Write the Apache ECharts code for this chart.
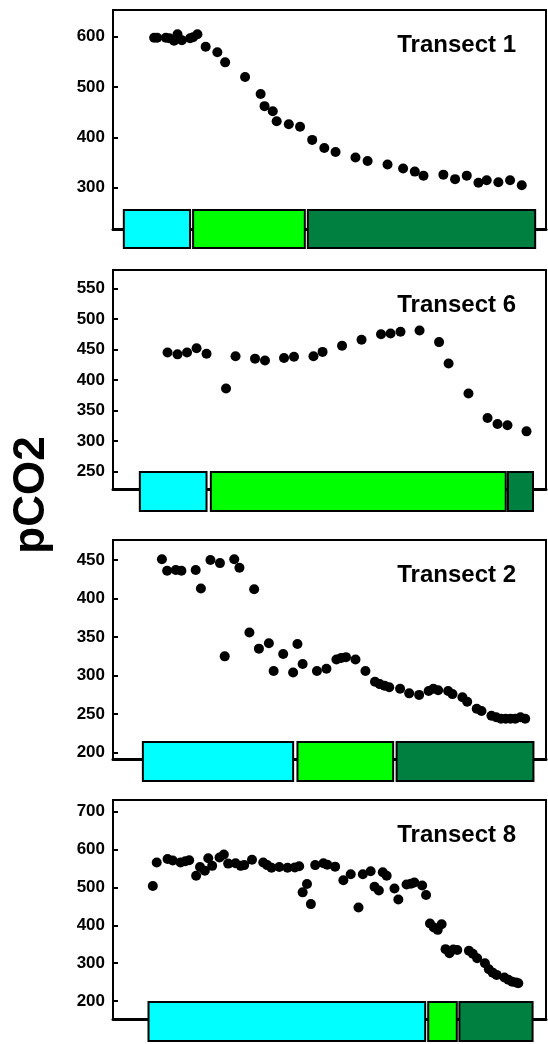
<!DOCTYPE html>
<html>
<head>
<meta charset="utf-8">
<script src="https://cdn.jsdelivr.net/npm/echarts@6/dist/echarts.min.js"></script>
<style>
  html, body { margin: 0; padding: 0; background: #fff; }
  #chart { width: 548px; height: 1044px; }
</style>
</head>
<body>
<div id="chart"></div>
<script>
// panel names, top to bottom
const transectNames = ['Transect 1', 'Transect 6', 'Transect 2', 'Transect 8'];

// distance along the transect (arbitrary 0-100 scale) and pCO2
const t1Dist = [9.5, 10.2, 12.2, 13.0, 14.1, 14.9, 15.9, 17.8, 18.5, 19.5, 21.4, 24.1, 25.9, 30.5, 34.1, 35.0, 36.9, 37.8, 40.6, 43.2, 46.0, 48.8, 51.4, 56.0, 58.8, 63.4, 67.0, 69.7, 71.7, 76.3, 79.0, 81.7, 84.4, 86.3, 89.0, 91.7, 94.4];
const t1Pco2 = [598, 598, 598, 597, 592, 605, 593, 597, 599, 605, 580, 569, 549, 520, 486, 462, 452, 432, 426, 421, 395, 379, 371, 360, 353, 346, 338, 332, 324, 326, 317, 324, 310, 315, 311, 315, 305];

const t6Dist = [12.6, 14.9, 17.1, 19.3, 21.6, 26.1, 28.3, 32.8, 35.1, 39.5, 41.8, 46.3, 48.4, 52.9, 57.4, 61.9, 64.1, 66.4, 70.8, 75.3, 77.5, 82.1, 86.5, 88.8, 91.1, 95.5];
const t6Pco2 = [445, 442, 445, 452, 443, 386, 439, 435, 432, 436, 438, 439, 446, 456, 466, 475, 476, 479, 481, 462, 427, 378, 338, 328, 326, 316];

const t2Dist = [11.3, 12.5, 14.5, 15.8, 19.1, 20.3, 22.5, 24.7, 25.8, 28.0, 29.2, 31.5, 32.6, 33.7, 36.0, 37.1, 39.3, 41.6, 42.6, 43.8, 47.1, 49.3, 51.6, 52.7, 53.8, 56.0, 58.3, 60.5, 61.6, 62.7, 63.8, 66.3, 68.4, 70.7, 72.9, 74.0, 75.1, 77.4, 78.4, 80.7, 81.8, 84.0, 85.1, 87.4, 88.5, 89.6, 90.7, 91.8, 92.9, 94.1, 95.2];
const t2Pco2 = [451, 436, 437, 436, 437, 413, 450, 446, 325, 451, 440, 356, 412, 335, 342, 306, 328, 304, 341, 315, 306, 309, 321, 323, 324, 321, 306, 292, 289, 287, 285, 283, 277, 275, 280, 283, 281, 280, 276, 272, 266, 257, 254, 248, 246, 244, 244, 244, 244, 246, 244];

const t8Dist = [9.2, 10.1, 12.6, 13.8, 15.6, 16.7, 17.6, 19.2, 20.1, 21.2, 22.0, 22.9, 24.6, 25.6, 26.6, 28.3, 29.5, 30.3, 32.1, 34.7, 35.6, 36.6, 38.4, 40.3, 42.0, 43.0, 43.8, 44.8, 45.7, 46.7, 48.6, 49.5, 51.3, 53.2, 54.9, 56.7, 57.7, 59.5, 60.4, 61.4, 62.3, 63.2, 65.0, 65.9, 67.8, 68.8, 69.6, 71.4, 72.3, 73.2, 74.1, 75.0, 75.9, 76.8, 77.7, 78.6, 79.5, 82.2, 83.1, 84.1, 85.9, 86.8, 87.7, 88.6, 90.4, 91.3, 92.2, 93.1, 93.6];
const t8Pco2 = [504, 566, 575, 571, 566, 569, 572, 531, 554, 544, 577, 557, 579, 587, 563, 564, 557, 559, 573, 566, 559, 552, 554, 552, 553, 556, 487, 509, 456, 559, 564, 560, 555, 519, 535, 447, 535, 543, 502, 492, 540, 531, 497, 468, 508, 510, 513, 505, 480, 405, 394, 388, 403, 337, 326, 336, 335, 333, 325, 313, 300, 284, 275, 269, 262, 256, 251, 249, 247];

// zones under each panel: [start, end] along the same distance scale
const t1Zones = [[2.5, 17.8], [18.5, 44.3], [45.0, 97.5]];
const t6Zones = [[6.2, 21.6], [22.6, 90.7], [91.2, 97.0]];
const t2Zones = [[6.9, 41.6], [42.6, 64.7], [65.5, 97.1]];
const t8Zones = [[8.2, 72.1], [72.8, 79.4], [80.0, 96.9]];

// y axis range and labelled ticks of each panel
const yRanges = [[218, 653], [221.7, 580], [191.8, 476], [152.5, 731]];
const t1Ticks = [300, 400, 500, 600];
const t6Ticks = [250, 300, 350, 400, 450, 500, 550];
const t2Ticks = [200, 250, 300, 350, 400, 450];
const t8Ticks = [200, 300, 400, 500, 600, 700];

const panels = [
    {dist: t1Dist, pco2: t1Pco2, zones: t1Zones, ticks: t1Ticks},
    {dist: t6Dist, pco2: t6Pco2, zones: t6Zones, ticks: t6Ticks},
    {dist: t2Dist, pco2: t2Pco2, zones: t2Zones, ticks: t2Ticks},
    {dist: t8Dist, pco2: t8Pco2, zones: t8Zones, ticks: t8Ticks}
]

const zoneColors = ['#00FFFF', '#00FF00', '#008040']
const gridTops = [10, 270, 540, 800]
const boxUp = [19, 17, 17, 17]
const boxDown = [19, 22, 22, 22]
const font = '"Liberation Sans", Arial, sans-serif'

let chart = echarts.init(document.getElementById('chart'))

let option = {
    animation: false,
    title: [],
    grid: [],
    xAxis: [],
    yAxis: [],
    series: [],
    graphic: [{
        type: 'text',
        x: 32,
        y: 495,
        rotation: Math.PI / 2,
        style: {
            text: 'pCO2',
            font: 'bold 44px ' + font,
            fill: '#000',
            textAlign: 'center',
            textVerticalAlign: 'middle'
        }
    }]
}

panels.forEach((p, i) => {
    option.title.push({
        text: transectNames[i],
        right: 27,
        top: gridTops[i] + 18,
        textStyle: {
            fontFamily: font,
            fontWeight: 'bold',
            fontSize: 24,
            lineHeight: 24,
            color: '#000'
        }
    })
    option.grid.push({
        left: 113,
        right: 2,
        top: gridTops[i],
        height: 219,
        show: true,
        borderColor: '#000',
        borderWidth: 2
    })
    option.xAxis.push({
        type: 'value',
        gridIndex: i,
        min: 0,
        max: 100,
        axisLine: {show: true, lineStyle: {color: '#000', width: 3}},
        axisTick: {show: false},
        axisLabel: {show: false},
        splitLine: {show: false}
    })
    option.yAxis.push({
        type: 'value',
        gridIndex: i,
        min: yRanges[i][0],
        max: yRanges[i][1],
        axisLine: {show: true, lineStyle: {color: '#000', width: 2}},
        axisTick: {
            show: true,
            inside: true,
            length: 5,
            customValues: p.ticks,
            lineStyle: {color: '#000', width: 2}
        },
        axisLabel: {
            customValues: p.ticks,
            margin: 8,
            color: '#000',
            fontFamily: font,
            fontWeight: 'bold',
            fontSize: 17
        },
        splitLine: {show: false}
    })
    option.series.push({
        type: 'scatter',
        xAxisIndex: i,
        yAxisIndex: i,
        symbolSize: 10,
        itemStyle: {color: '#000', opacity: 1},
        data: p.dist.map((d, k) => [d, p.pco2[k]]),
        z: 3
    })
    option.series.push({
        type: 'custom',
        xAxisIndex: i,
        yAxisIndex: i,
        clip: false,
        encode: {x: [0, 1]},
        data: p.zones.map((z, k) => [z[0], z[1], k]),
        renderItem: function (params, api) {
            let a = api.coord([api.value(0), yRanges[i][0]])
            let b = api.coord([api.value(1), yRanges[i][0]])
            return {
                type: 'rect',
                shape: {
                    x: a[0],
                    y: a[1] - boxUp[i],
                    width: b[0] - a[0],
                    height: boxUp[i] + boxDown[i]
                },
                style: {
                    fill: zoneColors[api.value(2)],
                    stroke: '#000',
                    lineWidth: 2
                }
            }
        },
        z: 4
    })
})

chart.setOption(option)
</script>
</body>
</html>
